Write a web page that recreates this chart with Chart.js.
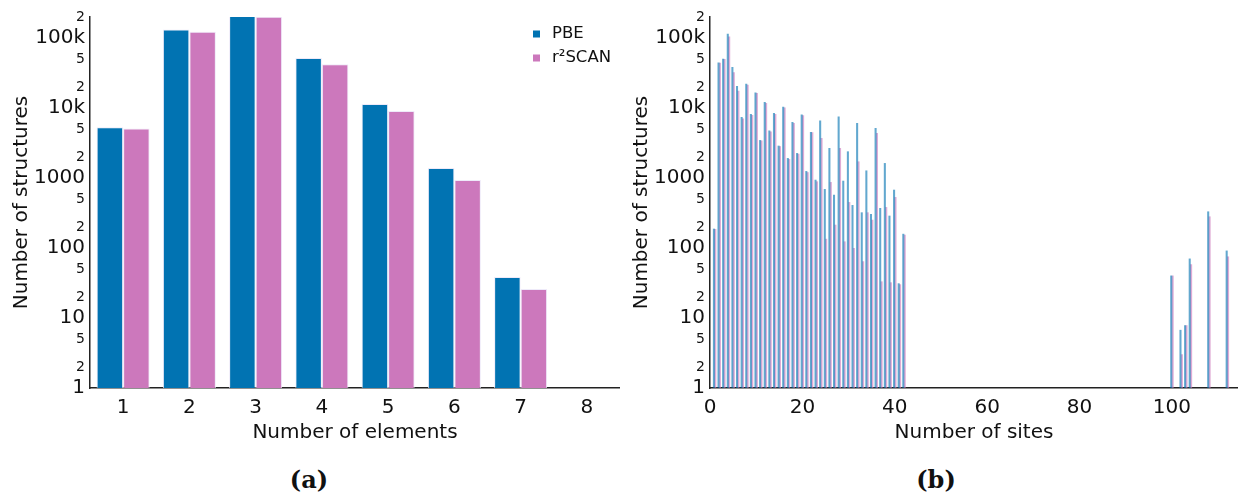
<!DOCTYPE html>
<html>
<head>
<meta charset="utf-8">
<script src="https://cdn.jsdelivr.net/npm/chart.js@4.4.1/dist/chart.umd.min.js"></script>
<style>
  html, body { margin: 0; padding: 0; background: #fff; }
  body { width: 1238px; height: 493px; position: relative; overflow: hidden; }
  canvas { position: absolute; top: 0; }
  #chartElements { left: 0; }
  #chartSites { left: 620px; }
  .caption { position: absolute; top: 466px; width: 80px; margin-left: -40px; text-align: center;
    font: bold 24px "DejaVu Serif", serif; color: #111; line-height: 28px; }
</style>
</head>
<body>
<canvas id="chartElements" width="620" height="450"></canvas>
<canvas id="chartSites" width="618" height="450"></canvas>
<div class="caption" style="left:309px">(a)</div>
<div class="caption" style="left:936px">(b)</div>
<script>
// structures per number of elements
const elements = ['1', '2', '3', '4', '5', '6', '7', '8'];
const pbeByElements = [5300, 133000, 224000, 51800, 11400, 1390, 38.5, null];
const r2scanByElements = [5100, 123000, 201000, 42400, 9060, 937, 26, null];

// structures per number of sites
const sites = [1, 2, 3, 4, 5, 6, 7, 8, 9, 10, 11, 12, 13, 14, 15, 16, 17, 18, 19, 20, 21,
  22, 23, 24, 25, 26, 27, 28, 29, 30, 31, 32, 33, 34, 35, 36, 37, 38, 39, 40, 41, 42,
  100, 102, 103, 104, 108, 112];
const pbeBySites = [187, 44400, 50000, 114000, 38100, 20400, 7360, 22000, 8130, 16500, 3450,
  12100, 4740, 8400, 2870, 10300, 1910, 6240, 2250, 8030, 1245, 4490, 936, 6590, 689, 2660,
  571, 7520, 906, 2380, 407, 6040, 320, 1270, 303, 5130, 369, 1620, 287, 674, 31, 158,
  40, 6.7, 7.8, 70, 330, 91];
const r2scanBySites = [185, 43800, 49500, 104000, 32000, 17500, 7040, 21300, 7860, 16200, 3400,
  11700, 4590, 8130, 2820, 10100, 1850, 6040, 2200, 7800, 1200, 4450, 887, 3690, 134, 867,
  213, 2660, 123, 449, 99, 1710, 64, 320, 251, 4350, 33, 381, 32, 530, 30, 153,
  40, 3, 7.8, 58, 280, 75];

const yTicks = [1, 2, 5, 10, 20, 50, 100, 200, 500, 1000, 2000, 5000,
  10000, 20000, 50000, 100000, 200000];
const yMajor = [1, 10, 100, 1000, 10000, 100000];

const PBE_COLOR = '#0173b2';
const R2SCAN_COLOR = '#cc78bc';
const FONT = '"DejaVu Sans", sans-serif';
const TEXT = '#111';

function yTickLabel(v) {
  if (v >= 10000 && yMajor.includes(v)) return (v / 1000) + 'k';
  if (yMajor.includes(v)) return String(v);
  return String(v).charAt(0);
}

function yAxis() {
  return {
    type: 'logarithmic',
    min: 1,
    max: 200000,
    afterBuildTicks: (scale) => { scale.ticks = yTicks.map(v => ({ value: v })); },
    afterFit: (scale) => { scale.width = 90; },
    grid: { display: false, drawTicks: false },
    border: { display: true, color: '#222', width: 1.5 },
    ticks: {
      autoSkip: false,
      padding: 5,
      color: TEXT,
      callback: (v) => yTickLabel(v),
      font: (ctx) => ({ family: FONT, size: ctx.tick && yMajor.includes(ctx.tick.value) ? 20 : 14 }),
    },
    title: {
      display: true,
      text: 'Number of structures',
      color: TEXT,
      font: { family: FONT, size: 20 },
      padding: { top: 10, bottom: 0 },
    },
  };
}

// legend drawn inside the plot area, top right
const legendInside = {
  id: 'legendInside',
  afterDraw(chart) {
    const ctx = chart.ctx;
    ctx.save();
    ctx.font = '16.5px ' + FONT;
    ctx.textBaseline = 'middle';
    chart.data.datasets.forEach((ds, i) => {
      const y = 34 + i * 24;
      ctx.fillStyle = ds.backgroundColor;
      ctx.fillRect(533, y - 3.5, 7, 7);
      ctx.fillStyle = TEXT;
      ctx.fillText(ds.label, 552, y);
    });
    ctx.restore();
  },
};

new Chart(document.getElementById('chartElements'), {
  type: 'bar',
  data: {
    labels: elements,
    datasets: [
      { label: 'PBE', data: pbeByElements, backgroundColor: PBE_COLOR,
        borderColor: 'rgba(236,232,248,0.9)', borderWidth: 1, clip: 0 },
      { label: 'r²SCAN', data: r2scanByElements, backgroundColor: R2SCAN_COLOR,
        borderColor: 'rgba(236,232,248,0.9)', borderWidth: 1, clip: 0 },
    ],
  },
  options: {
    responsive: false,
    animation: false,
    categoryPercentage: 0.8,
    barPercentage: 1.0,
    layout: { padding: { top: 17, right: 0, bottom: 0, left: 0 } },
    plugins: { legend: { display: false }, tooltip: { enabled: false } },
    scales: {
      x: {
        afterFit: (scale) => { scale.height = 62; },
        grid: { display: false, drawTicks: false },
        border: { display: true, color: '#222', width: 1.5 },
        ticks: { color: TEXT, padding: 8, font: { family: FONT, size: 20 } },
        title: {
          display: true,
          text: 'Number of elements',
          color: TEXT,
          font: { family: FONT, size: 20 },
          padding: { top: 0, bottom: 5 },
        },
      },
      y: yAxis(),
    },
  },
  plugins: [legendInside],
});

// thin bars: lighter fill so the pairs read like the narrow histogram columns
new Chart(document.getElementById('chartSites'), {
  type: 'bar',
  data: {
    datasets: [
      { label: 'PBE', data: sites.map((s, i) => ({ x: s, y: pbeBySites[i] })),
        backgroundColor: 'rgba(1,115,178,0.62)', barThickness: 1.4, clip: 0 },
      { label: 'r²SCAN', data: sites.map((s, i) => ({ x: s, y: r2scanBySites[i] })),
        backgroundColor: 'rgba(204,120,188,0.62)', barThickness: 1.4, clip: 0 },
    ],
  },
  options: {
    responsive: false,
    animation: false,
    layout: { padding: { top: 17, right: 0, bottom: 0, left: 0 } },
    plugins: { legend: { display: false }, tooltip: { enabled: false } },
    scales: {
      x: {
        type: 'linear',
        offset: false,
        min: 0,
        max: 114.3,
        afterFit: (scale) => { scale.height = 62; },
        grid: { display: false, drawTicks: false },
        border: { display: true, color: '#222', width: 1.5 },
        ticks: { stepSize: 20, includeBounds: false, color: TEXT, padding: 8,
          font: { family: FONT, size: 20 } },
        title: {
          display: true,
          text: 'Number of sites',
          color: TEXT,
          font: { family: FONT, size: 20 },
          padding: { top: 0, bottom: 5 },
        },
      },
      y: yAxis(),
    },
  },
});
</script>
</body>
</html>
